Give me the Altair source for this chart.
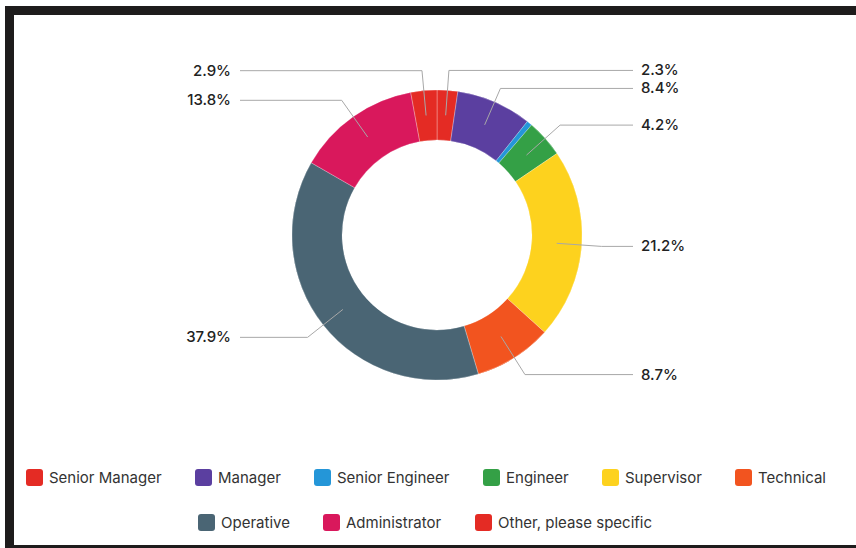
import altair as alt
import numpy as np
import pandas as pd

# ---------------- data ----------------
categories = ["Senior Manager", "Manager", "Senior Engineer", "Engineer", "Supervisor",
              "Technical", "Operative", "Administrator", "Other, please specific"]
percentages = [2.3, 8.4, 0.6, 4.2, 21.2, 8.7, 37.9, 13.8, 2.9]
colors = ["#e42b24", "#5b3fa0", "#2496d8", "#34a046", "#fdd21e",
          "#f2541f", "#4a6574", "#d9185c", "#e42b24"]
legend_row1 = categories[:6]
legend_row2 = categories[6:]

# ---------------- layout ----------------
W, H = 856, 548
CX, CY = 437, 235
R_OUT, R_IN = 145, 95
R_MID = 120
R_ELBOW = 165
X_RIGHT_END, X_LEFT_END = 633, 240
MIN_SEP = 18
FONT = "Inter"

df = pd.DataFrame({"category": categories, "pct": percentages, "idx": range(len(categories))})
total = df["pct"].sum()
cum = df["pct"].cumsum()
start = (cum - df["pct"]) / total * 2 * np.pi
end = cum / total * 2 * np.pi
mid = (start + end) / 2
df["mid"] = mid
df["side"] = np.where(np.sin(mid) >= 0, "right", "left")
df["label"] = df["pct"].map(lambda v: f"{v:.1f}%")
df["ly"] = CY - R_ELBOW * np.cos(mid)

lab = df[df["pct"] >= 1].copy()
# simple collision avoidance per side
for side in ["left", "right"]:
    sub = lab[lab["side"] == side].sort_values("ly")
    prev = -1e9
    for i, row in sub.iterrows():
        y = max(row["ly"], prev + MIN_SEP)
        lab.loc[i, "ly"] = y
        prev = y

pts = []
for _, row in lab.iterrows():
    m = row["mid"]
    sx, sy = CX + R_MID * np.sin(m), CY - R_MID * np.cos(m)
    c = np.cos(m)
    t = (CY - row["ly"]) / c if abs(c) > 1e-6 else R_ELBOW
    t = float(np.clip(t, R_MID + 5, R_ELBOW + 20))
    ex, ey = CX + t * np.sin(m), CY - t * np.cos(m)
    endx = X_RIGHT_END if row["side"] == "right" else X_LEFT_END
    pts += [
        {"category": row["category"], "o": 0, "x": sx, "y": sy},
        {"category": row["category"], "o": 1, "x": ex, "y": ey},
        {"category": row["category"], "o": 2, "x": endx, "y": row["ly"]},
    ]
lines = pd.DataFrame(pts)
lab["tx_right"] = X_RIGHT_END + 8
lab["tx_left"] = X_LEFT_END - 9

xs = alt.Scale(domain=[0, W], nice=False, zero=False)
ys = alt.Scale(domain=[0, H], nice=False, zero=False, reverse=True)

rounded = "M-0.65,-1 L0.65,-1 Q1,-1 1,-0.65 L1,0.65 Q1,1 0.65,1 L-0.65,1 Q-1,1 -1,0.65 L-1,-0.65 Q-1,-1 -0.65,-1 Z"

def legend(values, lx, ly, cols):
    return alt.Legend(values=values, orient="none", legendX=lx, legendY=ly,
                      direction="horizontal", columns=cols, gridAlign="none",
                      columnPadding=33, symbolType=rounded, symbolSize=289,
                      symbolStrokeWidth=0, symbolOpacity=1, labelFont=FONT,
                      labelFontSize=15, labelColor="#333333", labelOffset=6,
                      labelLimit=300)

base = alt.Chart(df)
arc1 = base.mark_arc(outerRadius=R_OUT, innerRadius=R_IN, stroke="#ffffff", strokeWidth=0.3).encode(
    theta=alt.Theta("pct:Q", stack=True),
    order=alt.Order("idx:Q"),
    x=alt.X(datum=CX, scale=xs, axis=None),
    y=alt.Y(datum=CY, scale=ys, axis=None),
    color=alt.Color("category:N", scale=alt.Scale(domain=categories, range=colors),
                    legend=legend(legend_row1, 26, 469, 6), title=None),
)
arc2 = base.mark_arc(outerRadius=R_OUT, innerRadius=R_IN, stroke="#ffffff", strokeWidth=0.3).encode(
    theta=alt.Theta("pct:Q", stack=True),
    order=alt.Order("idx:Q"),
    x=alt.X(datum=CX, scale=xs, axis=None),
    y=alt.Y(datum=CY, scale=ys, axis=None),
    fill=alt.Fill("category:N", scale=alt.Scale(domain=categories, range=colors),
                  legend=legend(legend_row2, 198, 514, 3), title=None),
)

leader = alt.Chart(lines).mark_line(color="#a8a8a8", strokeWidth=1).encode(
    x=alt.X("x:Q", scale=xs, axis=None),
    y=alt.Y("y:Q", scale=ys, axis=None),
    detail="category:N",
    order="o:Q",
)

text_r = alt.Chart(lab[lab["side"] == "right"]).mark_text(
    align="left", baseline="middle", font=FONT, fontSize=15, fontWeight=500, color="#222222"
).encode(x=alt.X("tx_right:Q", scale=xs, axis=None), y=alt.Y("ly:Q", scale=ys, axis=None), text="label:N")
text_l = alt.Chart(lab[lab["side"] == "left"]).mark_text(
    align="right", baseline="middle", font=FONT, fontSize=15, fontWeight=500, color="#222222"
).encode(x=alt.X("tx_left:Q", scale=xs, axis=None), y=alt.Y("ly:Q", scale=ys, axis=None), text="label:N")

frame_color = "#1e1c1c"
frame_top = alt.Chart(df).mark_rect(color=frame_color).encode(
    x=alt.value(5), x2=alt.value(W), y=alt.value(6), y2=alt.value(15))
frame_left = alt.Chart(df).mark_rect(color=frame_color).encode(
    x=alt.value(5), x2=alt.value(14), y=alt.value(6), y2=alt.value(H))
frame_bottom = alt.Chart(df).mark_rect(color=frame_color).encode(
    x=alt.value(5), x2=alt.value(W), y=alt.value(545), y2=alt.value(H))

chart = alt.layer(arc1, arc2, leader, text_r, text_l, frame_top, frame_left, frame_bottom).properties(
    width=W, height=H, padding=0, autosize=alt.AutoSizeParams(type="none"), background="#ffffff"
).resolve_scale(color="independent").configure_view(strokeWidth=0, fill="#ffffff")

chart.save("out.html", embed_options={"renderer": "svg", "actions": False})
